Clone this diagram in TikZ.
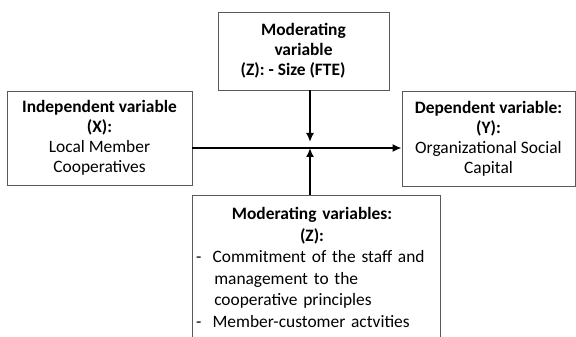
\documentclass[tikz,border=0pt]{standalone}
\usepackage{fontspec}
\setmainfont{Carlito}
\usepackage{tikz}
\usetikzlibrary{arrows.meta}

% dash and indent for the items of the bottom box
\newcommand{\itemdash}{-\hspace{0.65em}}
\newcommand{\itemgap}{\hspace*{1.05em}}

\begin{document}
\begin{tikzpicture}[x=1pt,y=1pt,>={Latex[length=9pt,width=8pt]},
		varbox/.style={draw=black!65, line width=0.8pt, align=center, inner sep=0pt,
			font=\fontsize{17.4}{20}\selectfont},
		link/.style={->, line width=1.7pt}]
		\useasboundingbox (0,0) rectangle (576,337);

		% the four variables
		\node[varbox, minimum width=171pt, minimum height=78pt] (size) at (303.5,286)
		{\textbf{Moderating}\\ \textbf{variable}\\ \textbf{(Z): - Size (FTE)}\hspace*{1.2em}};
		\node[varbox, minimum width=185pt, minimum height=94pt] (indep) at (99.5,199)
		{\textbf{Independent variable}\\ \textbf{(X):}\\ Local Member\\ Cooperatives};
		\node[varbox, minimum width=173pt, minimum height=95pt] (dep) at (488.5,198.5)
		{\textbf{Dependent variable:}\\ \textbf{(Y):}\\ Organizational Social\\ Capital};
		%\node[varbox, minimum width=248pt, minimum height=150pt] (commit) at (316,67) {};
		\node[varbox, anchor=north, align=left, text width=240pt, inner xsep=4pt, inner ysep=12pt,
			font=\fontsize{17.4}{21.5}\selectfont] (commit) at (316,142)
		{\makebox[232pt]{\textbf{Moderating variables:}}\\
			\makebox[232pt]{\textbf{(Z):}}\\
			\itemdash Commitment of the staff and\\
			\itemgap management to the\\
			\itemgap cooperative principles\\
			\itemdash Member-customer actvities\\[30pt]};

		% crossing point of the arrows
		\coordinate (cross) at (310,189);
		\path[link]
		(indep.east |- cross) edge (dep.west |- cross)
		(size.south -| cross) edge ([yshift=6pt]cross)
		(commit.north -| cross) edge (cross);
\end{tikzpicture}
\end{document}
